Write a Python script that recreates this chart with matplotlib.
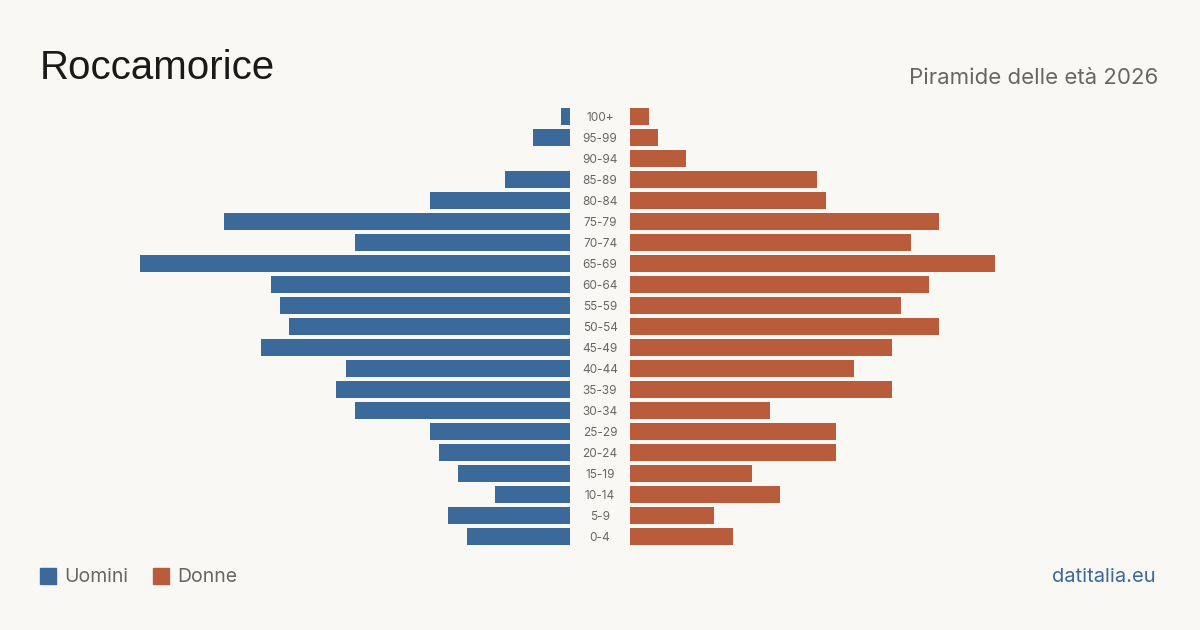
import matplotlib.pyplot as plt
from matplotlib.patches import Rectangle

# age classes, bottom to top
age_groups = ["0-4", "5-9", "10-14", "15-19", "20-24", "25-29", "30-34", "35-39",
              "40-44", "45-49", "50-54", "55-59", "60-64", "65-69", "70-74",
              "75-79", "80-84", "85-89", "90-94", "95-99", "100+"]
uomini = [11, 13, 8, 12, 14, 15, 23, 25, 24, 33, 30, 31, 32, 46, 23, 37, 15, 7, 0, 4, 1]
donne = [11, 9, 16, 13, 22, 22, 15, 28, 24, 28, 33, 29, 32, 39, 30, 33, 21, 20, 6, 3, 2]

BG = "#f9f8f4"
BLUE = "#3b6a9a"
RED = "#b95c3c"
W, H = 1200, 630
XMAX = 470 / 9.35  # units shown across each half

fig = plt.figure(figsize=(12, 6.3), dpi=100, facecolor=BG)
plt.rcParams['font.family'] = ['Inter', 'DejaVu Sans']

bottom = 1 - 547 / H
height = 441 / H
ax_l = fig.add_axes([100 / W, bottom, 470 / W, height])
ax_r = fig.add_axes([630 / W, bottom, 470 / W, height])

ypos = list(range(len(age_groups)))
ax_l.barh(ypos, uomini, height=0.81, color=BLUE)
ax_r.barh(ypos, donne, height=0.81, color=RED)

ax_l.set_xlim(XMAX, 0)
ax_r.set_xlim(0, XMAX)
for ax in (ax_l, ax_r):
    ax.set_ylim(-0.5, len(age_groups) - 0.5)
    ax.axis("off")
    ax.set_facecolor("none")

# age labels in the gap between the halves
for y, lab in zip(ypos, age_groups):
    ax_r.text(-30 / 9.35, y - 0.06, lab, ha="center", va="center",
              fontsize=8.5, color="#666666")

fig.text(40 / W, 1 - 68 / H, "Roccamorice", fontsize=29, color="#1a1a1a",
         ha="left", va="center", family=["Liberation Sans", "DejaVu Sans"])
fig.text(1158 / W, 1 - 78 / H, "Piramide delle età 2026", fontsize=16,
         color="#666666", ha="right", va="center")

# legend
for x0, col, lab in [(40, BLUE, "Uomini"), (153, RED, "Donne")]:
    fig.patches.append(Rectangle((x0 / W, 1 - 584 / H), 16 / W, 16 / H,
                                 transform=fig.transFigure, color=col))
    fig.text((x0 + 24) / W, 1 - 577 / H, lab, fontsize=14, color="#666666",
             ha="left", va="center")

fig.text(1156 / W, 1 - 577 / H, "datitalia.eu", fontsize=14.5, color=BLUE,
         ha="right", va="center")

fig.savefig("out.png", dpi=100, facecolor=BG)
